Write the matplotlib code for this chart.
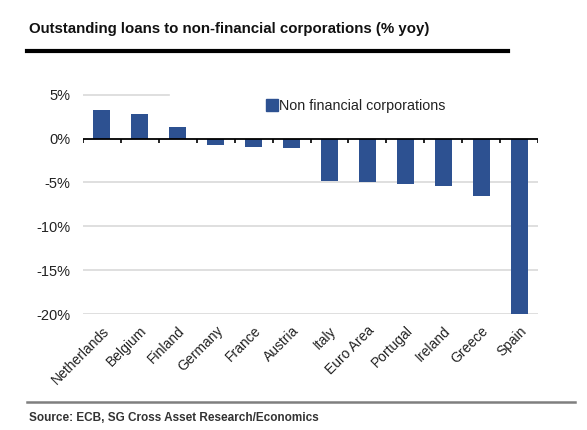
import matplotlib.pyplot as plt
import numpy as np
from matplotlib.lines import Line2D
from matplotlib.ticker import FuncFormatter

countries = ["Netherlands", "Belgium", "Finland", "Germany", "France", "Austria",
             "Italy", "Euro Area", "Portugal", "Ireland", "Greece", "Spain"]
loans_yoy = [3.3, 2.8, 1.3, -0.7, -0.9, -1.1, -4.8, -5.0, -5.2, -5.4, -6.5, -20.0]
y_ticks = [5, 0, -5, -10, -15, -20]

bar_color = "#2d5191"
text_color = "#222222"

plt.rcParams["font.family"] = ["Liberation Sans", "DejaVu Sans"]

fig = plt.figure(figsize=(5.87, 4.30), dpi=100)
ax = fig.add_axes([83 / 587, 1 - 314 / 430, 455 / 587, (314 - 86) / 430])

x = np.arange(len(countries))
ax.bar(x, loans_yoy, width=0.45, color=bar_color, zorder=3,
       label="Non financial corporations")

ax.set_xlim(-0.5, len(countries) - 0.5)
ax.set_ylim(-20, 6)

# gridlines (the 5% one is hidden behind the legend on the right)
for t in y_ticks:
    if t == 0:
        continue
    xmax = 0.19 if t == 5 else 1.0
    ax.axhline(t, xmin=0, xmax=xmax, color="#d9d9d9", lw=1.2, zorder=1)
ax.axhline(0, color="black", lw=1.3, zorder=4)

# category boundary ticks on the zero line
for b in np.arange(-0.5, len(countries), 1.0):
    ax.plot([b, b], [0, -0.45], color="black", lw=1.2, zorder=4,
            solid_capstyle="butt")

for s in ax.spines.values():
    s.set_visible(False)

ax.set_yticks(y_ticks)
ax.yaxis.set_major_formatter(FuncFormatter(lambda v, p: f"{v:.0f}%"))
ax.tick_params(axis="y", length=0, pad=9, labelsize=10.5, labelcolor=text_color)

ax.set_xticks(x)
ax.set_xticklabels(countries, rotation=45, ha="right", rotation_mode="anchor",
                   fontsize=10, color=text_color)
ax.tick_params(axis="x", length=0, pad=7)

handle = Line2D([], [], marker="s", color=bar_color, lw=0, markersize=8)
ax.legend([handle], ["Non financial corporations"], loc="upper left",
          bbox_to_anchor=(0.375, 1.0), frameon=False, fontsize=10.3,
          handletextpad=0.1, handlelength=0.8, labelcolor=text_color)

fig.text(29 / 587, 1 - 29 / 430, "Outstanding loans to non-financial corporations (% yoy)",
         fontsize=10.8, fontweight="bold", color="#111111", va="center", ha="left")
fig.add_artist(Line2D([27 / 587, 508 / 587], [1 - 51 / 430, 1 - 51 / 430],
                      color="black", lw=3, transform=fig.transFigure))

fig.add_artist(Line2D([27 / 587, 575 / 587], [1 - 402 / 430, 1 - 402 / 430],
                      color="#7f7f7f", lw=1.8, transform=fig.transFigure))
fig.text(29 / 587, 1 - 418 / 430, "Source: ECB, SG Cross Asset Research/Economics",
         fontsize=8.5, fontweight="bold", color="#333333", va="center", ha="left")

fig.savefig("out.png", dpi=100)
